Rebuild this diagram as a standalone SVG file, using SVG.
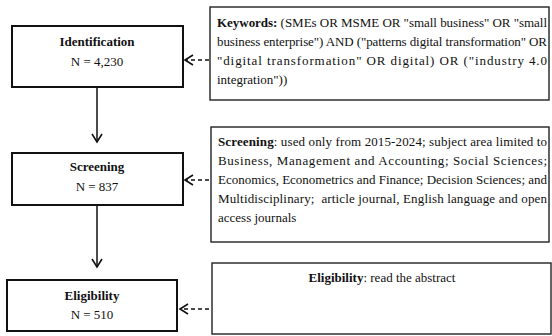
<svg xmlns="http://www.w3.org/2000/svg" width="552" height="336" viewBox="0 0 552 336">
  <style>
    text { font-family: "Liberation Serif", "Times New Roman", serif; font-size: 13px; fill: #111; }
    .b { font-weight: bold; }
    .mid { text-anchor: middle; }
    .stage { fill: #fff; stroke: #111; stroke-width: 2; }
    .note { fill: #fff; stroke: #222; stroke-width: 1.4; }
    .flow { stroke: #111; stroke-width: 1.5; fill: none; }
    .dash { stroke: #111; stroke-width: 1.5; fill: none; stroke-dasharray: 4 3; }
  </style>
  <defs>
    <marker id="head" viewBox="-10 -6 12 12" refX="0" refY="0" markerWidth="12" markerHeight="12" markerUnits="userSpaceOnUse" orient="auto">
      <path d="M -8,-5 L 0,0 L -8,5" fill="none" stroke="#111" stroke-width="1.6" stroke-dasharray="none"/>
    </marker>
  </defs>

  <rect width="552" height="336" fill="#fff"/>

  <!-- stage boxes -->
  <g id="identification">
    <rect class="stage" x="12" y="26" width="171" height="61"/>
    <text class="b mid" x="97" y="46">Identification</text>
    <text class="mid" x="97" y="66">N = 4,230</text>
  </g>
  <g id="screening">
    <rect class="stage" x="12" y="153" width="171" height="52"/>
    <text class="b mid" x="97" y="171">Screening</text>
    <text class="mid" x="97" y="191">N = 837</text>
  </g>
  <g id="eligibility">
    <rect class="stage" x="7" y="280" width="170" height="51"/>
    <text class="b mid" x="92" y="300">Eligibility</text>
    <text class="mid" x="92" y="319">N = 510</text>
  </g>

  <!-- criteria notes -->
  <g id="keywords-note">
    <rect class="note" x="210" y="7" width="339" height="93"/>
    <text x="217" y="27" textLength="330" lengthAdjust="spacing"><tspan class="b">Keywords:</tspan> (SMEs OR MSME OR "small business" OR "small</text>
    <text x="217" y="46" textLength="330" lengthAdjust="spacing">business enterprise") AND ("patterns digital transformation" OR</text>
    <text x="217" y="65" textLength="330" lengthAdjust="spacing">"digital transformation" OR digital) OR ("industry 4.0</text>
    <text x="217" y="84">integration"))</text>
  </g>
  <g id="screening-note">
    <rect class="note" x="211" y="127" width="338" height="115"/>
    <text x="218" y="146" textLength="329" lengthAdjust="spacing"><tspan class="b">Screening</tspan>: used only from 2015-2024; subject area limited to</text>
    <text x="218" y="165" textLength="329" lengthAdjust="spacing">Business, Management and Accounting; Social Sciences;</text>
    <text x="218" y="184" textLength="329" lengthAdjust="spacing">Economics, Econometrics and Finance; Decision Sciences; and</text>
    <text x="218" y="203" textLength="329" lengthAdjust="spacing" xml:space="preserve">Multidisciplinary;  article journal, English language and open</text>
    <text x="218" y="222">access journals</text>
  </g>
  <g id="eligibility-note">
    <rect class="note" x="212" y="263" width="339" height="71"/>
    <text class="mid" x="382" y="282"><tspan class="b">Eligibility</tspan>: read the abstract</text>
  </g>

  <!-- connectors -->
  <g id="connectors">
    <line class="flow" x1="97" y1="88" x2="97" y2="142" marker-end="url(#head)"/>
    <line class="flow" x1="97" y1="206" x2="97" y2="267" marker-end="url(#head)"/>
    <line class="dash" x1="209" y1="60" x2="185" y2="60" marker-end="url(#head)"/>
    <line class="dash" x1="209" y1="180" x2="185" y2="180" marker-end="url(#head)"/>
    <line class="dash" x1="209" y1="309" x2="180" y2="309" marker-end="url(#head)"/>
  </g>
</svg>
